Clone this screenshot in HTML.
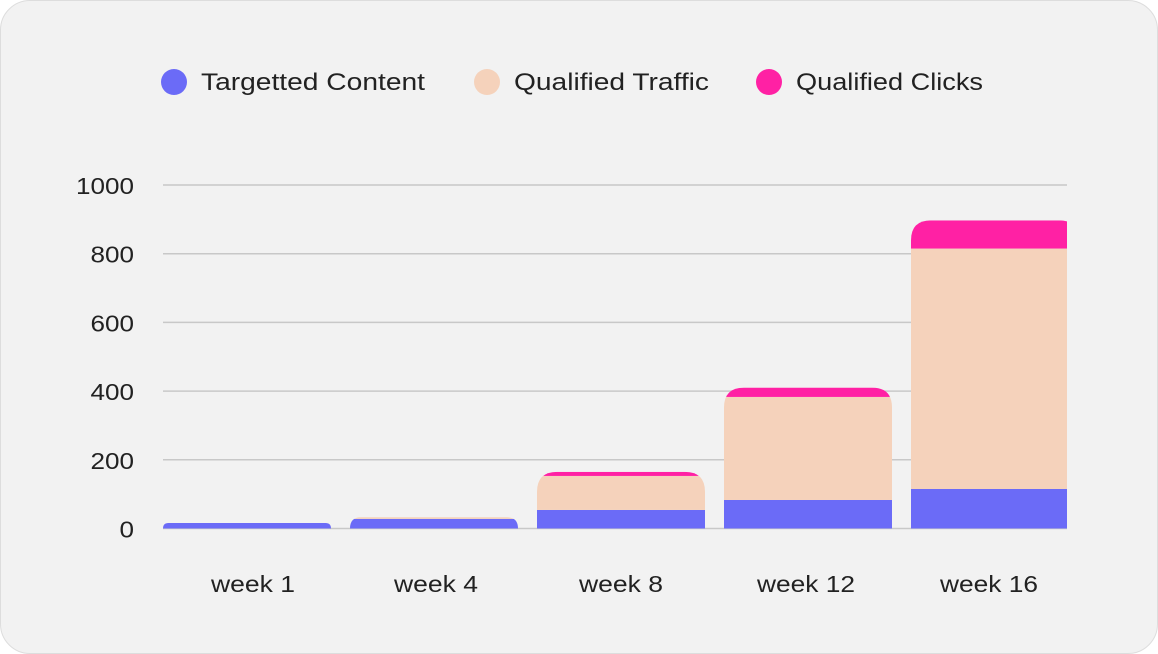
<!DOCTYPE html>
<html><head><meta charset="utf-8"><style>
html,body{margin:0;padding:0;background:#fff;}
body{width:1158px;height:654px;overflow:hidden;}
.card{position:absolute;left:0;top:0;width:1156px;height:652px;background:#f2f2f2;border:1px solid #ddd;border-radius:30px;}
svg{position:absolute;left:0;top:0;}
text{font-family:"Liberation Sans",sans-serif;fill:#222;}
</style></head><body>
<div class="card"></div>
<svg id="chart" width="1158" height="654"></svg>
<script>
const categories=["week 1","week 4","week 8","week 12","week 16"];
const targetted=[16,28,54,83,115];
const traffic=[0,5,99,300,700];
const clicks=[0,0,12,27,82];
const yTicks=[0,200,400,600,800,1000];
const seriesNames=["Targetted Content","Qualified Traffic","Qualified Clicks"];
const colors=["#6b6bf7","#f5d2bb","#ff21a4"];

const NS="http://www.w3.org/2000/svg";
const svg=document.getElementById('chart');
const x0=163,bandW=187,barW=168,plotRight=1067;
const y=v=>528.5-v*0.3435;
function el(t,a){const e=document.createElementNS(NS,t);for(const k in a)e.setAttribute(k,a[k]);return e;}
const legW=[224,195,187];

// legend
const legX=[174,487,769];
seriesNames.forEach((n,i)=>{
  const g=el('g',{});
  
  
  g.appendChild(el('circle',{cx:legX[i],cy:82,r:13,fill:colors[i]}));
  const t=el('text',{x:legX[i]+27,y:90,'font-size':24,textLength:legW[i],lengthAdjust:'spacingAndGlyphs'});t.textContent=n;g.appendChild(t);
  svg.appendChild(g);
});
// grid + y labels
yTicks.forEach(v=>{
  const l=el('line',{x1:163,x2:plotRight,y1:y(v),y2:y(v),stroke:'#c8c8c8','stroke-width':1.5});
  
  
  svg.appendChild(l);
  const s=String(v);
  const t=el('text',{x:134,y:y(v)+9,'font-size':23,'text-anchor':'end',textLength:s.length*14.5,lengthAdjust:'spacingAndGlyphs'});
  
  
  t.textContent=s;svg.appendChild(t);
});
// plot clip
const defs=el('defs',{});svg.appendChild(defs);
const pc=el('clipPath',{id:'plotclip'});pc.appendChild(el('rect',{x:0,y:0,width:plotRight,height:654}));defs.appendChild(pc);
categories.forEach((c,i)=>{
  const bx=x0+i*bandW;
  const vals=[targetted[i],traffic[i],clicks[i]];
  const total=vals.reduce((a,b)=>a+b,0);
  const top=y(total),base=y(0),h=base-top;
  const r=Math.min(20,h);
  const cp=el('clipPath',{id:'bc'+i});
  cp.appendChild(el('path',{d:`M${bx},${base}V${top+r}Q${bx},${top} ${bx+r},${top}H${bx+barW-r}Q${bx+barW},${top} ${bx+barW},${top+r}V${base}Z`}));
  defs.appendChild(cp);
  const outer=el('g',{'clip-path':'url(#plotclip)'});
  const g=el('g',{'clip-path':`url(#bc${i})`});
  
  
  let cum=0;
  vals.forEach((v,k)=>{
    if(v<=0)return;
    const rc=el('rect',{x:bx,y:y(cum+v),width:barW,height:y(cum)-y(cum+v),fill:colors[k]});
    
    
    g.appendChild(rc);cum+=v;
  });
  outer.appendChild(g);svg.appendChild(outer);
  const cx=(i==4)?989:bx+barW/2+(i==0?6:i==1?2:0)+(i==3?-2:0);
  const t=el('text',{x:cx,y:592,'font-size':23,'text-anchor':'middle',textLength:c.length*14,lengthAdjust:'spacingAndGlyphs'});
  
  
  t.textContent=c;svg.appendChild(t);
});
</script>
</body></html>
